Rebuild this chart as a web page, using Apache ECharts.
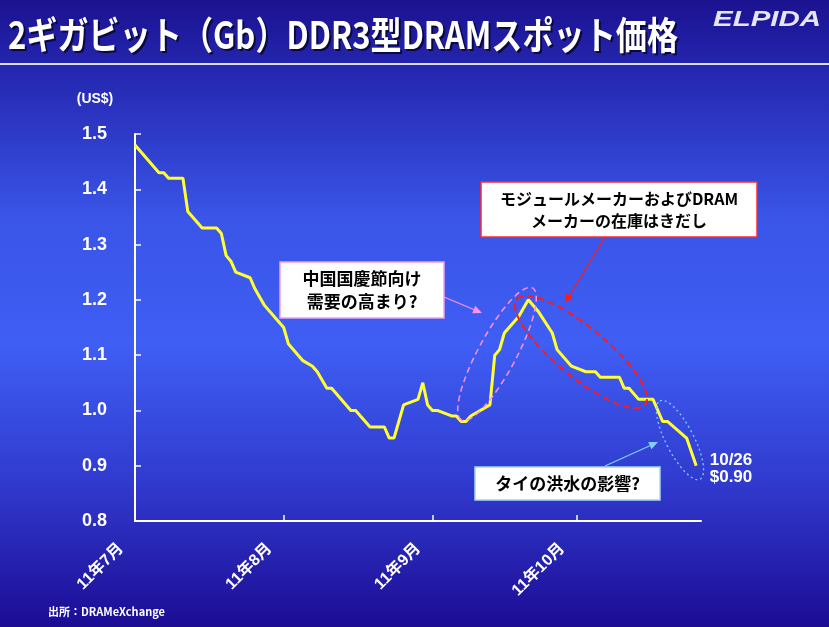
<!DOCTYPE html>
<html>
<head>
<meta charset="utf-8">
<script src="https://cdn.jsdelivr.net/npm/echarts@6/dist/echarts.min.js"></script>
<style>
html, body { margin: 0; padding: 0; }
#main { width: 829px; height: 627px; }
</style>
</head>
<body>
<div id="main"></div>
<script>
// 日数 (2011/7/1 = 0)
var days = [0, 5, 6, 7, 10, 11, 14, 17, 18, 19, 20, 21, 24, 25, 27, 30, 31, 32, 35, 37, 38, 40, 41, 45, 46,
    49, 52, 53, 54, 56, 59, 60, 61, 62, 63, 66, 67, 68, 69, 70, 74, 75, 76, 77, 80, 82, 84, 87, 88,
    91, 94, 96, 97, 101, 102, 103, 105, 108, 110, 111, 115, 117];
// スポット価格 (US$)
var prices = [1.48, 1.43, 1.43, 1.42, 1.42, 1.36, 1.33, 1.33, 1.32, 1.28, 1.27, 1.25, 1.24, 1.22, 1.19, 1.16, 1.15, 1.12, 1.09, 1.08, 1.07, 1.04, 1.04, 1.00, 1.00,
    0.97, 0.97, 0.95, 0.95, 1.01, 1.02, 1.05, 1.01, 1.00, 1.00, 0.99, 0.99, 0.98, 0.98, 0.99, 1.01, 1.10, 1.11, 1.14, 1.17, 1.20, 1.18, 1.14, 1.11,
    1.08, 1.07, 1.07, 1.06, 1.06, 1.04, 1.04, 1.02, 1.02, 0.98, 0.98, 0.95, 0.90];
var monthTicks = [0, 31, 62, 92];
var monthLabels = ['11年7月', '11年8月', '11年9月', '11年10月'];

var titleText = '2ギガビット（Gb）DDR3型DRAMスポット価格';
var numFont = '"Liberation Sans", "Noto Sans CJK JP", sans-serif';
var jpFont = '"Noto Sans CJK JP", sans-serif';

function textWidth(str, font) {
    var ctx = document.createElement('canvas').getContext('2d');
    ctx.font = font;
    return ctx.measureText(str).width;
}

function arrow(x1, y1, x2, y2, color) {
    var a = Math.atan2(y2 - y1, x2 - x1), L = 9, W = 4;
    var bx = x2 - L * Math.cos(a), by = y2 - L * Math.sin(a);
    return [
        {type: 'line', z: 100, shape: {x1: x1, y1: y1, x2: bx, y2: by}, style: {stroke: color, lineWidth: 1.2}},
        {type: 'polygon', z: 100, shape: {points: [[x2, y2],
            [bx + W * Math.sin(a), by - W * Math.cos(a)],
            [bx - W * Math.sin(a), by + W * Math.cos(a)]]}, style: {fill: color}}
    ];
}

function box(x, y, w, h, border, lines, size) {
    return [
        {type: 'rect', z: 100, shape: {x: x, y: y, width: w, height: h}, style: {fill: '#fff', stroke: border, lineWidth: 1.5}},
        {type: 'text', z: 101, x: x + w / 2, y: y + h / 2, style: {text: lines.join('\n'), fill: '#000',
            font: 'bold ' + size + 'px ' + jpFont, align: 'center', verticalAlign: 'middle', lineHeight: size + 6}}
    ];
}

function ellipse(cx, cy, rx, ry, deg, color, dash, lw) {
    return {type: 'ellipse', z: 90, x: cx, y: cy, rotation: deg * Math.PI / 180,
        shape: {cx: 0, cy: 0, rx: rx, ry: ry},
        style: {fill: 'none', stroke: color, lineWidth: lw, lineDash: dash}};
}

var titleFont = 'bold 38px ' + jpFont;
var titleScale = 670 / textWidth(titleText, titleFont);
var logoFont = 'italic bold 22px ' + numFont;
var logoScale = 108 / textWidth('ELPIDA', logoFont);

var graphics = [
    {type: 'rect', z: -100, shape: {x: 0, y: 0, width: 829, height: 627},
        style: {fill: new echarts.graphic.LinearGradient(0, 0, 0, 1, [
            {offset: 0, color: '#1b1290'},
            {offset: 0.12, color: '#2528b2'},
            {offset: 0.35, color: '#3a55e8'},
            {offset: 0.55, color: '#3f5ef4'},
            {offset: 0.78, color: '#3038cc'},
            {offset: 1, color: '#1c0c94'}
        ])}},
    {type: 'rect', z: 100, shape: {x: 0, y: 63, width: 829, height: 2}, style: {fill: '#dcdcf5'}},
    {type: 'text', z: 100, x: 10, y: 37, scaleX: titleScale,
        style: {text: titleText, fill: '#0a0a40', font: titleFont, verticalAlign: 'middle'}},
    {type: 'text', z: 101, x: 8, y: 35, scaleX: titleScale,
        style: {text: titleText, fill: '#ffffff', font: titleFont, verticalAlign: 'middle'}},
    {type: 'text', z: 101, x: 713, y: 20, scaleX: logoScale,
        style: {text: 'ELPIDA', fill: '#e6e6f2', font: logoFont, verticalAlign: 'middle'}},
    {type: 'text', z: 101, x: 95, y: 99,
        style: {text: '(US$)', fill: '#fff', font: 'bold 14px ' + numFont, align: 'center', verticalAlign: 'middle'}},
    {type: 'text', z: 101, x: 731, y: 469,
        style: {text: '10/26\n$0.90', fill: '#fff', font: 'bold 17px ' + numFont, align: 'center', verticalAlign: 'middle', lineHeight: 17}},
    {type: 'text', z: 101, x: 48, y: 612,
        style: {text: '出所：DRAMeXchange', fill: '#fff', font: 'bold 11px ' + jpFont, verticalAlign: 'middle'}},
    ellipse(497, 354, 75, 19, 61.7, '#ff90f0', [6, 4], 1.5),
    ellipse(581, 352, 83, 25, -39.4, '#ff1a1a', [7, 4], 2),
    ellipse(680, 440, 44, 14, -62.9, '#7fd0ff', [2, 3], 1.3)
];
graphics = graphics
    .concat(box(280, 262, 164, 56, '#f0a0f0', ['中国国慶節向け', '需要の高まり?'], 17))
    .concat(box(481, 182, 276, 55, '#ff2a2a', ['モジュールメーカーおよびDRAM', 'メーカーの在庫はきだし'], 16))
    .concat(box(475, 467, 185, 33, '#a0d8ff', ['タイの洪水の影響?'], 17))
    .concat(arrow(444, 297, 482, 313, '#ff90f0'))
    .concat(arrow(605, 237, 565, 303, '#ff1a1a'))
    .concat(arrow(605, 466, 658, 442, '#7fd0ff'));

var seriesData = [];
for (var i = 0; i < days.length; i++) {
    seriesData.push([days[i], prices[i]]);
}

var myChart = echarts.init(document.getElementById('main'));
var option = {
    animation: false,
    grid: {left: 135, top: 134, right: 128, bottom: 106},
    xAxis: {
        type: 'value',
        min: 0,
        max: 118,
        axisLine: {show: true, lineStyle: {color: '#fff', width: 2}},
        axisTick: {show: true, inside: true, length: 6, customValues: monthTicks, lineStyle: {color: '#fff', width: 1.5}},
        axisLabel: {
            customValues: monthTicks,
            rotate: 45,
            margin: 11,
            padding: [0, 20, 0, 0],
            color: '#fff',
            fontWeight: 'bold',
            fontSize: 16,
            fontFamily: numFont,
            formatter: function (v) {
                return monthLabels[monthTicks.indexOf(v)];
            }
        },
        splitLine: {show: false}
    },
    yAxis: {
        type: 'value',
        min: 0.8,
        max: 1.5,
        interval: 0.1,
        axisLine: {show: true, lineStyle: {color: '#fff', width: 2}},
        axisTick: {show: true, inside: true, length: 6, lineStyle: {color: '#fff', width: 1.5}},
        axisLabel: {
            margin: 28,
            color: '#fff',
            fontWeight: 'bold',
            fontSize: 18,
            fontFamily: numFont,
            formatter: function (v) { return v.toFixed(1); }
        },
        splitLine: {show: false}
    },
    graphic: {elements: graphics},
    series: [
        {
            type: 'line',
            data: seriesData,
            showSymbol: false,
            lineStyle: {color: '#ffff33', width: 3},
            z: 50
        }
    ]
};
myChart.setOption(option);
</script>
</body>
</html>
